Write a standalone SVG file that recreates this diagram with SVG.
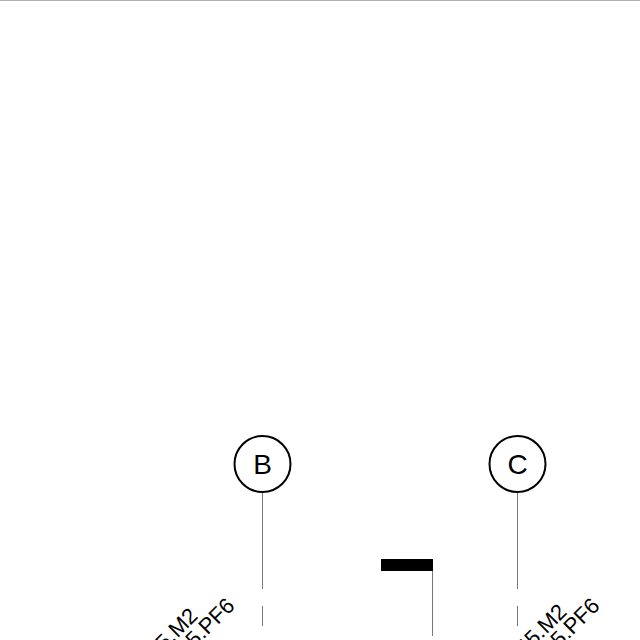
<svg xmlns="http://www.w3.org/2000/svg" width="640" height="640" viewBox="0 0 640 640">
<style>
.grid{fill:none;stroke:#000;stroke-width:2}
.letter{font:28px "Liberation Sans",Arial,sans-serif;text-anchor:middle;fill:#000}
.conn{stroke:#777;stroke-width:1;fill:none}
.rot{font:22px "Liberation Sans",Arial,sans-serif;fill:#000;text-rendering:geometricPrecision}
</style>
<rect id="top-rule" x="0" y="0" width="640" height="1" fill="#b0b0b0"/>
<g id="connectors">
<path class="conn" d="M262.500 493V589M262.500 606V626"/>
<path class="conn" d="M517.500 493V589M517.500 606V626"/>
<path class="conn" d="M432.500 571V636"/>
</g>
<g id="node-b"><circle class="grid" cx="262.500" cy="464" r="28"/><text class="letter" x="262.500" y="474">B</text></g>
<g id="node-c"><circle class="grid" cx="517.500" cy="464" r="28"/><text class="letter" x="517.500" y="474">C</text></g>
<g id="bar"><rect x="381" y="559" width="52" height="12" fill="#000"/></g>
<g id="labels">
<text class="rot" text-anchor="end" transform="translate(199,617) rotate(-45)">45.M2</text>
<text class="rot" text-anchor="end" transform="translate(236,607) rotate(-45)">45.PF6</text>
<text class="rot" text-anchor="end" transform="translate(568,613) rotate(-45)">45.M2</text>
<text class="rot" text-anchor="end" transform="translate(601,607) rotate(-45)">45.PF6</text>
</g>
</svg>
